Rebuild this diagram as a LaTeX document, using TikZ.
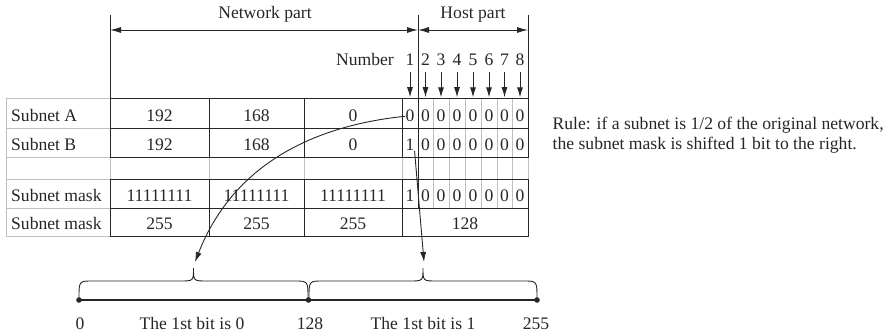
\documentclass[tikz,border=0pt]{standalone}
\usepackage{fontspec}
\setmainfont{Liberation Serif}
\usetikzlibrary{arrows.meta}
\begin{document}
\begin{tikzpicture}[x=1pt,y=-1pt,
  dk/.style={draw=black!85, line width=1pt},
  lt/.style={draw=black!25, line width=1pt},
  txt/.style={font=\fontsize{17.6}{20}\selectfont, inner sep=0pt, anchor=base, text=black!85},
  arr/.style={-{Latex[length=10pt,width=6pt]}, line width=0.9pt, draw=black!85},
  darr/.style={{Latex[length=11pt,width=6pt]}-{Latex[length=11pt,width=6pt]}, line width=0.9pt, draw=black!85},
  bracestyle/.style={draw=black!85, line width=0.9pt},
]
\useasboundingbox (0,0) rectangle (889,336);

% ---- light grid lines ----
\draw[lt] (6,99) rectangle (110,237);
\foreach \yy in {129,158,180,209} \draw[lt] (6,\yy) -- (110,\yy);
\foreach \xx in {433,449,465,481,497,512} \draw[lt] (\xx,99) -- (\xx,209);
\foreach \xx in {110,209,304,402,528} \draw[lt] (\xx,158) -- (\xx,180);
\draw[lt] (110,158) -- (528,158);
\draw[lt] (110,180) -- (528,180);

% ---- dark grid lines ----
\draw[dk] (110,99) rectangle (528,158);
\draw[dk] (110,129) -- (528,129);
\foreach \xx in {209,304,402} \draw[dk] (\xx,99) -- (\xx,158);
\draw[dk] (110,180) rectangle (528,237);
\draw[dk] (110,209) -- (528,209);
\foreach \xx in {209,304,402} \draw[dk] (\xx,180) -- (\xx,237);
\draw[dk] (418,15) -- (418,209);
\draw[dk] (110,15) -- (110,99);
\draw[dk] (528,15) -- (528,99);

% ---- header ----
\coordinate (nl) at (110,30);
\coordinate (nm) at (418,30);
\coordinate (nr) at (528,30);
\draw[darr] (nl) -- (nm);
\draw[darr] (nm) -- (nr);
\node[txt] (netpart) at (265,18.5) {Network part};
\node[txt] (hostpart) at (473,18.5) {Host part};
\node[txt] (number) at (365,66) {Number};
\foreach \i/\xx in {1/410,2/425.5,3/441,4/457,5/473,6/489,7/504.5,8/520}{
  \node[txt] (nd\i) at (\xx,66) {\i};
  \draw[arr] ([yshift=-6pt]nd\i.south) -- ++(0,25);
}

% ---- row labels ----
\node[txt, anchor=base west] (la) at (11,122) {Subnet A};
\node[txt, anchor=base west] (lb) at (11,151) {Subnet B};
\node[txt, anchor=base west] (lm1) at (11,201.5) {Subnet mask};
\node[txt, anchor=base west] (lm2) at (11,230) {Subnet mask};

% ---- cells ----
\node[txt] (a192) at (159.5,122) {192};
\node[txt] (a168) at (256.5,122) {168};
\node[txt] (a0) at (353,122) {0};
\node[txt] (b192) at (159.5,151) {192};
\node[txt] (b168) at (256.5,151) {168};
\node[txt] (b0) at (353,151) {0};
\node[txt] (m1a) at (159.5,201.5) {11111111};
\node[txt] (m1b) at (256.5,201.5) {11111111};
\node[txt] (m1c) at (353,201.5) {11111111};
\node[txt] (m2a) at (159.5,230) {255};
\node[txt] (m2b) at (256.5,230) {255};
\node[txt] (m2c) at (353,230) {255};
\node[txt] (m2d) at (465,230) {128};

\node[txt] (a1) at (410,122) {0};
\node[txt] (b1) at (410,151) {1};
\node[txt] (m1) at (410,201.5) {1};
\foreach \i/\xx in {2/425.5,3/441,4/457,5/473,6/489,7/504.5,8/520}{
  \node[txt] (a\i) at (\xx,122) {0};
  \node[txt] (b\i) at (\xx,151) {0};
  \node[txt] (m\i) at (\xx,201.5) {0};
}

% ---- rule text ----
\node[txt, anchor=base west] (rule1) at (552.5,129.3) {Rule: if a subnet is 1/2 of the original network,};
\node[txt, anchor=base west] (rule2) at (552.5,150) {the subnet mask is shifted 1 bit to the right.};

% ---- number line ----
\coordinate (p0) at (79,300);
\coordinate (p128) at (308.5,300);
\coordinate (p255) at (537,300);
\draw[line width=2pt, draw=black!85] (p0) -- (p255);
\foreach \p in {p0,p128,p255} \fill[black!85] (\p) circle (2.8pt);
\node[txt] (t0) at (80,330) {0};
\node[txt] (tbit0) at (192,330) {The 1st bit is 0};
\node[txt] (t128) at (310,330) {128};
\node[txt] (tbit1) at (423,330) {The 1st bit is 1};
\node[txt] (t255) at (536,330) {255};

% ---- braces ----
\coordinate (tipA) at (193.5,268);
\coordinate (tipB) at (423,268);
\draw[bracestyle] (79,298) .. controls (79,281) .. (93,281) -- (180,281)
  .. controls (193.5,281) .. (tipA) .. controls (193.5,281) .. (207,281)
  -- (294,281) .. controls (308,281) .. (308,298);
\draw[bracestyle] (309,298) .. controls (309,281) .. (323,281) -- (409.5,281)
  .. controls (423,281) .. (tipB) .. controls (423,281) .. (436.5,281)
  -- (523,281) .. controls (537,281) .. (537,298);

% ---- connectors ----
\coordinate (endA) at (195,262);
\coordinate (endB) at (424,262);
\draw[arr] (a1.west) .. controls (320,125) and (235,160) .. (endA);
\draw[arr] (b1.south east) -- (endB);
\end{tikzpicture}
\end{document}
